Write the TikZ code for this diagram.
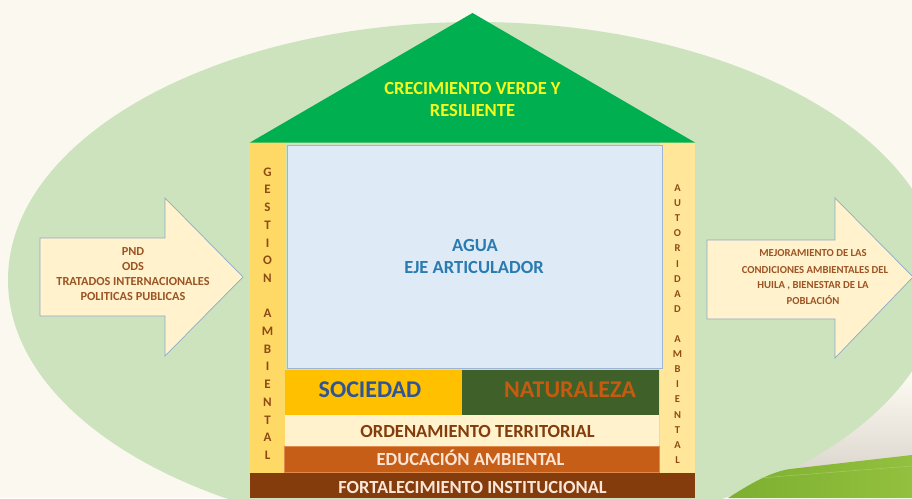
\documentclass[tikz,border=0pt]{standalone}
\usepackage{fontspec}
\setmainfont{Carlito}
\definecolor{bg}{HTML}{FBF8F0}
\definecolor{oval}{HTML}{CCE3BE}
\definecolor{roofc}{HTML}{00B050}
\definecolor{roofText}{HTML}{F4FA1E}
\definecolor{pilL}{HTML}{FFD966}
\definecolor{pilR}{HTML}{FFE699}
\definecolor{pilText}{HTML}{8E4A14}
\definecolor{water}{HTML}{DEEBF7}
\definecolor{waterEdge}{HTML}{9DB5D3}
\definecolor{aguaText}{HTML}{2A7BB0}
\definecolor{soc}{HTML}{FFC000}
\definecolor{socText}{HTML}{2F5597}
\definecolor{nat}{HTML}{3F6129}
\definecolor{natText}{HTML}{C55A11}
\definecolor{ordc}{HTML}{FFF2CC}
\definecolor{ordText}{HTML}{843C0C}
\definecolor{edu}{HTML}{C65E17}
\definecolor{eduEdge}{HTML}{E08A4C}
\definecolor{lightText}{HTML}{FBE5D6}
\definecolor{fort}{HTML}{843C0C}
\definecolor{arrowFill}{HTML}{FFF2CC}
\definecolor{arrowEdge}{HTML}{8FAAC6}
\definecolor{arrowText}{HTML}{9C5424}
\definecolor{swooshA}{HTML}{7DAF30}
\definecolor{swooshB}{HTML}{93C03E}
\definecolor{shadeG}{HTML}{DDD8CF}
\begin{document}
\begin{tikzpicture}[x=1pt,y=-1pt,
  lbl/.style={inner sep=0pt, anchor=base},
  big/.style={lbl, font=\bfseries\fontsize{18.5}{20}\selectfont},
  huge/.style={lbl, font=\bfseries\fontsize{24}{26}\selectfont},
  pl/.style={lbl, font=\bfseries\fontsize{13}{14}\selectfont, text=pilText},
  pr/.style={lbl, font=\bfseries\fontsize{10.5}{12}\selectfont, text=pilText},
  al/.style={lbl, font=\bfseries\fontsize{12.3}{14}\selectfont, text=arrowText},
  ar/.style={lbl, font=\bfseries\fontsize{10.7}{12}\selectfont, text=arrowText},
  blockarrow/.style={fill=arrowFill, draw=arrowEdge, line width=0.7pt, line join=miter}]
\clip (0,0) rectangle (912,498);
\fill[bg] (0,0) rectangle (912,498);
% grey shade in the lower right corner
\shade[top color=bg, bottom color=shadeG] (700,380) rectangle (912,470);
% big oval
\fill[oval] (475,280) ellipse [x radius=467pt, y radius=258pt];
% green swoosh
\shade[left color=swooshA, right color=swooshB]
  (728,498) .. controls (750,484) and (770,472) .. (790,469) -- (912,455) -- (912,498) -- cycle;
\draw[swooshB!70!white, line width=0.6pt, opacity=0.6] (760,478) -- (912,466);

% left arrow
\path[blockarrow] (40,238) -- (165,238) -- (165,198) -- (243,277) -- (165,356) -- (165,316) -- (40,316) -- cycle;
\node[al] (inA) at (133,255.7) {PND};
\node[al] (inB) at (133,270.7) {ODS};
\node[al] (inC) at (133,285.3) {TRATADOS INTERNACIONALES};
\node[al] (inD) at (133,300.3) {POLITICAS PUBLICAS};

% right arrow
\path[blockarrow] (707,240) -- (835,240) -- (835,198) -- (913,277) -- (835,358) -- (835,319) -- (707,319) -- cycle;
\node[ar] (outA) at (813,256.8) {MEJORAMIENTO DE LAS};
\node[ar] (outB) at (815,273.2) {CONDICIONES AMBIENTALES DEL};
\node[ar] (outC) at (813,288.8) {HUILA , BIENESTAR DE LA};
\node[ar] (outD) at (813,304) {POBLACIÓN};

% pillars
\fill[pilL] (250,142) rectangle (285,473);
\fill[pilR] (660,142) rectangle (695,473);

% roof
\fill[roofc] (250,142.5) -- (472.5,13) -- (695,142.5) -- cycle;
\node[big, text=roofText] (roofA) at (472.5,94) {CRECIMIENTO VERDE Y};
\node[big, text=roofText] (roofB) at (472.5,116) {RESILIENTE};

% water box
\filldraw[fill=water, draw=waterEdge, line width=0.7pt] (287,145) rectangle (662,368.5);
\node[big, text=aguaText] (agua) at (475,251) {AGUA};
\node[big, text=aguaText] (eje) at (474,273.5) {EJE ARTICULADOR};

% society / nature
\fill[soc] (285,369.5) rectangle (462,415);
\fill[nat] (462,369.5) rectangle (659,415);
\node[huge, text=socText] (sociedad) at (370,397) {SOCIEDAD};
\node[huge, text=natText] (naturaleza) at (570,397) {NATURALEZA};

% bands
\fill[ordc] (285,415) rectangle (659,446);
\node[big, text=ordText] (ord) at (477.5,437.7) {ORDENAMIENTO TERRITORIAL};
\filldraw[fill=edu, draw=eduEdge, line width=0.5pt] (284,446.5) rectangle (659,472.5);
\node[big, text=lightText] (edu) at (470.5,465.7) {EDUCACIÓN AMBIENTAL};
\fill[fort] (250,473) rectangle (695,498);
\node[big, text=lightText] (fort) at (472.5,493.5) {FORTALECIMIENTO INSTITUCIONAL};

% pillar letters
\foreach \ch/\k in {G/0,E/1,S/2,T/3,I/4,O/5,N/6,A/8,M/9,B/10,I/11,E/12,N/13,T/14,A/15,L/16}
  \node[pl] (gp\k) at (267.5,{176.2+17.7*\k}) {\ch};
\foreach \ch/\k in {A/0,U/1,T/2,O/3,R/4,I/5,D/6,A/7,D/8,A/10,M/11,B/12,I/13,E/14,N/15,T/16,A/17,L/18}
  \node[pr] (ap\k) at (677.5,{191.5+15.1*\k}) {\ch};
\end{tikzpicture}
\end{document}
